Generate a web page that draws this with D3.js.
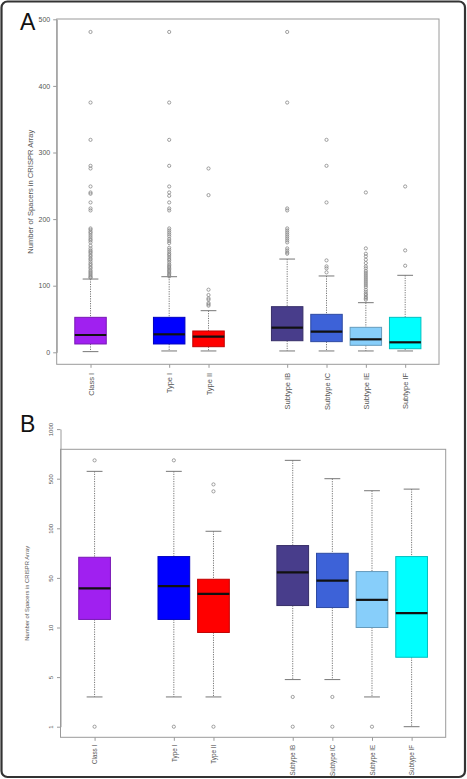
<!DOCTYPE html>
<html>
<head>
<meta charset="utf-8">
<script src="https://cdn.jsdelivr.net/npm/d3@7"></script>
<style>
  body { margin: 0; background: #fff; }
  svg { display: block; }
  text { font-family: "Liberation Sans", Arial, sans-serif; }
</style>
</head>
<body>
<svg width="467" height="779"></svg>
<script>
// groups and where they sit on the x axis (gaps between classes)
const groups = ["Class I", "Type I", "Type II", "Subtype IB", "Subtype IC", "Subtype IE", "Subtype IF"];
const slots = [1, 3, 4, 6, 7, 8, 9];
const fills = ["#a020f0", "#0000ff", "#ff0000", "#483d8b", "#3d62d8", "#87cefa", "#00ffff"];
const yTitle = "Number of Spacers in CRISPR Array";

// panel A: linear scale
const aTicks = [0, 100, 200, 300, 400, 500];
const aLow = [1, 2, 2, 2, 2, 2, 2];
const aQ1 = [12.5, 12.5, 8.4, 17.4, 16, 10.5, 5.4];
const aMed = [26, 27, 23.4, 37, 31, 19.5, 15];
const aQ3 = [52.5, 52.5, 32, 68.5, 57, 37.5, 52.5];
const aHigh = [110, 113.5, 62.5, 140, 114.6, 74.5, 115.6];
const aOut = [
  [481, 375, 319, 280, 276, 249, 240, 238, 225, 216, 213, 186, 184, 181, 179, 176, 173, 170, 168, 165,
   160, 156, 153, 151, 149, 146, 144, 141, 139, 136, 133, 131, 128, 126, 123, 121, 119, 117, 115, 113, 112],
  [481, 375, 319, 280, 249, 240, 235, 225, 216, 213, 186, 183, 180, 177, 174, 170, 167, 164, 157, 154,
   151, 148, 146, 143, 140, 138, 135, 132, 130, 128, 126, 124, 122, 120, 118, 116, 114],
  [276, 236, 94, 86, 81, 79, 74, 72, 70],
  [481, 375, 216, 213, 186, 183, 180, 177, 174, 171, 168, 165, 156, 153, 150, 148],
  [319, 280, 225, 138, 129, 126, 120],
  [240, 156, 148, 144, 139, 134, 129, 126, 122, 119, 116, 113, 110, 107, 104, 101, 98, 94, 91, 88, 86, 83, 81, 79],
  [249, 153, 130]
];

// panel B: tick labels sit at equal steps
const bTicks = [1, 5, 10, 50, 100, 500, 1000];
const bLow = [3.4, 3.4, 3.4, 4.8, 4.8, 3.4, 1];
const bQ1 = [16.5, 16.5, 9.5, 27.7, 26.1, 10, 7];
const bMed = [41.6, 43.3, 37.1, 55.6, 47.8, 32.3, 21.6];
const bQ3 = [70.8, 71.5, 48.9, 82.6, 74.8, 56.4, 71.5];
const bHigh = [574, 574, 97, 685, 500, 403, 416];
const bOut = [[685, 1], [685, 1], [454, 398, 1], [3.4, 1], [3.4, 1], [1], []];

const svg = d3.select("svg");

svg.append("rect")
    .attr("x", 1.5).attr("y", 1.5)
    .attr("width", 463.5).attr("height", 775.5)
    .attr("rx", 6)
    .attr("fill", "#fff")
    .attr("stroke", "#333")
    .attr("stroke-width", 2.2);

function drawPanel(p) {
  const g = svg.append("g");
  const x = d3.scaleLinear().domain([0.14, 9.86]).range([p.left, p.right]);
  const y = p.y;
  const bw = x(1.4) - x(1);
  const grey = "#9a9a9a";

  g.append("rect")
      .attr("x", p.left).attr("y", p.top)
      .attr("width", p.right - p.left).attr("height", p.bottom - p.top)
      .attr("fill", "none").attr("stroke", grey);

  const ya = g.append("g")
      .attr("transform", `translate(${p.left},0)`)
      .call(d3.axisLeft(y).tickValues(p.ticks).tickFormat(d3.format("d"))
        .tickSize(3.5).tickSizeOuter(0).tickPadding(3));
  ya.selectAll("path, line").attr("stroke", grey);
  ya.selectAll("text").attr("fill", "#555").attr("font-size", p.tickFont);
  if (p.rotateY) {
    ya.selectAll("text")
        .attr("transform", "rotate(-90)")
        .attr("x", 0).attr("y", -8).attr("dy", 0)
        .attr("text-anchor", "middle");
  }

  const xa = g.append("g")
      .attr("transform", `translate(0,${p.bottom})`)
      .call(d3.axisBottom(x).tickValues(slots).tickFormat((d, i) => groups[i])
        .tickSize(3.5).tickSizeOuter(0));
  xa.select(".domain").remove();
  xa.selectAll("line").attr("stroke", grey);
  xa.selectAll("text")
      .attr("fill", "#555")
      .attr("font-size", p.xFont)
      .attr("transform", "rotate(-90)")
      .attr("x", -p.xGap).attr("y", 0).attr("dy", "0.35em")
      .attr("text-anchor", "end");

  g.append("text")
      .attr("transform", `translate(${p.titleX},${(p.top + p.bottom) / 2}) rotate(-90)`)
      .attr("text-anchor", "middle")
      .attr("font-size", p.titleFont)
      .attr("fill", "#555")
      .text(yTitle);

  g.append("text")
      .attr("x", 20).attr("y", p.labelY)
      .attr("font-size", 23)
      .attr("fill", "#111")
      .text(p.label);

  const box = g.selectAll("g.box")
      .data(groups.map((d, i) => ({
        i, pos: slots[i], low: p.low[i], q1: p.q1[i], med: p.med[i], q3: p.q3[i], high: p.high[i], out: p.out[i]
      })))
      .join("g").attr("class", "box");

  box.append("line")
      .attr("x1", d => x(d.pos)).attr("x2", d => x(d.pos))
      .attr("y1", d => y(d.high)).attr("y2", d => y(d.q3))
      .attr("stroke", "#777").attr("stroke-dasharray", "1.2,1.2");
  box.append("line")
      .attr("x1", d => x(d.pos)).attr("x2", d => x(d.pos))
      .attr("y1", d => y(d.q1)).attr("y2", d => y(d.low))
      .attr("stroke", "#777").attr("stroke-dasharray", "1.2,1.2");
  ["high", "low"].forEach(k => {
    box.append("line")
        .attr("x1", d => x(d.pos) - bw / 2).attr("x2", d => x(d.pos) + bw / 2)
        .attr("y1", d => y(d[k])).attr("y2", d => y(d[k]))
        .attr("stroke", "#777");
  });

  box.append("rect")
      .attr("x", d => x(d.pos) - bw).attr("width", 2 * bw)
      .attr("y", d => y(d.q3)).attr("height", d => y(d.q1) - y(d.q3))
      .attr("fill", d => fills[d.i])
      .attr("stroke", d => d3.color(fills[d.i]).darker(0.8))
      .attr("stroke-width", 1);
  box.append("line")
      .attr("x1", d => x(d.pos) - bw).attr("x2", d => x(d.pos) + bw)
      .attr("y1", d => y(d.med)).attr("y2", d => y(d.med))
      .attr("stroke", "#111").attr("stroke-width", 2.2);

  box.selectAll("circle")
      .data(d => d.out.map(v => ({ pos: d.pos, v })))
      .join("circle")
      .attr("cx", d => x(d.pos)).attr("cy", d => y(d.v))
      .attr("r", 1.6)
      .attr("fill", "none").attr("stroke", "#888").attr("stroke-width", 0.8);
}

drawPanel({
  label: "A", labelY: 30,
  left: 56.7, right: 439, top: 19, bottom: 364.3,
  y: d3.scaleLinear().domain([0, 500]).range([352.3, 19.3]),
  ticks: aTicks, tickFont: 7, rotateY: false,
  titleX: 33, titleFont: 7.6, xFont: 7.5, xGap: 8.5,
  low: aLow, q1: aQ1, med: aMed, q3: aQ3, high: aHigh, out: aOut
});

drawPanel({
  label: "B", labelY: 432,
  left: 60.5, right: 445.7, top: 449.3, bottom: 737.3,
  y: d3.scaleLinear().domain(bTicks).range(bTicks.map((d, i) => 726.7 - i * 49.6)),
  ticks: bTicks, tickFont: 6, rotateY: true,
  titleX: 29, titleFont: 5.8, xFont: 6.3, xGap: 7.5,
  low: bLow, q1: bQ1, med: bMed, q3: bQ3, high: bHigh, out: bOut
});
</script>
</body>
</html>
